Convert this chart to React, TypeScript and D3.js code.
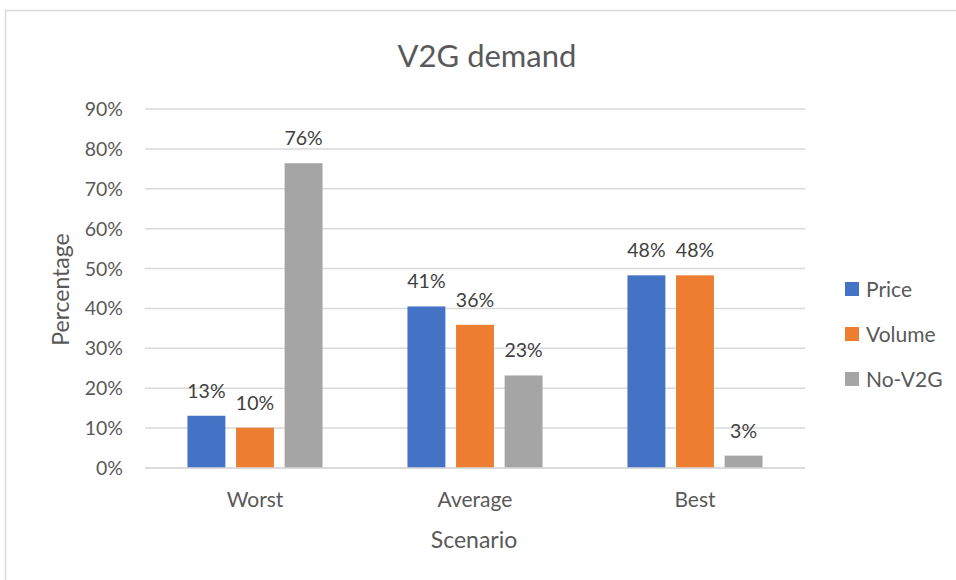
import React from "react";
import * as d3 from "d3";

const categories = ["Worst", "Average", "Best"];
const seriesNames = ["Price", "Volume", "No-V2G"];
const priceValues = [0.131, 0.405, 0.483];
const volumeValues = [0.101, 0.359, 0.483];
const noV2GValues = [0.764, 0.232, 0.031];
const colors = ["#4472C4", "#ED7D31", "#A5A5A5"];
const yTicks = [0, 0.1, 0.2, 0.3, 0.4, 0.5, 0.6, 0.7, 0.8, 0.9];

const W = 956;
const H = 580;
const FONT = "Lato, 'Open Sans', sans-serif";

export default function App() {
  const left = 145;
  const right = 805;
  const top = 109;
  const bottom = 468;
  const series = [priceValues, volumeValues, noV2GValues];

  const x = d3.scaleBand<string>().domain(categories).range([left, right]).paddingInner(0.386).paddingOuter(0.193);
  const x1 = d3.scaleBand<string>().domain(seriesNames).range([0, x.bandwidth()]).paddingInner(0.22);
  const y = d3.scaleLinear().domain([0, 0.9]).range([bottom, top]);
  const pct = d3.format(".0%");

  return (
    <svg width={W} height={H} style={{ position: "absolute", left: 0, top: 0, background: "#fff" }} fontFamily={FONT}>
      <rect x={5.5} y={10.5} width={W + 10} height={H + 10} fill="#fff" stroke="#d9d9d9" strokeWidth={1.5} />
      <text x={487} y={67} textAnchor="middle" fontSize={31} fill="#595959">V2G demand</text>
      {yTicks.map((t) => (
        <g key={t}>
          <line x1={left} x2={right} y1={y(t)} y2={y(t)} stroke="#d9d9d9" strokeWidth={1.5} />
          <text x={123} y={y(t) + 7} textAnchor="end" fontSize={19.5} fill="#595959">{pct(t)}</text>
        </g>
      ))}
      {categories.map((c, ci) => (
        <g key={c} transform={`translate(${x(c)},0)`}>
          {series.map((vals, si) => {
            const bx = x1(seriesNames[si])!;
            const bw = x1.bandwidth();
            return (
              <g key={si}>
                <rect x={bx} y={y(vals[ci])} width={bw} height={y(0) - y(vals[ci])} fill={colors[si]} />
                <text x={bx + bw / 2} y={y(vals[ci]) - 18} textAnchor="middle" fontSize={19.5} fill="#404040">{pct(vals[ci])}</text>
              </g>
            );
          })}
          <text x={x.bandwidth() / 2} y={507} textAnchor="middle" fontSize={21} fill="#595959">{c}</text>
        </g>
      ))}
      <line x1={left} x2={right} y1={bottom} y2={bottom} stroke="#d9d9d9" strokeWidth={1.5} />
      <text x={474} y={548} textAnchor="middle" fontSize={23} fill="#595959">Scenario</text>
      <text transform={`translate(69,${(top + bottom) / 2 + 1}) rotate(-90)`} textAnchor="middle" fontSize={23} fill="#595959">Percentage</text>
      {seriesNames.map((s, i) => (
        <g key={s} transform={`translate(845,${282 + i * 45})`}>
          <rect x={0} y={0} width={14} height={14} fill={colors[i]} />
          <text x={21} y={15} fontSize={21} fill="#595959">{s}</text>
        </g>
      ))}
    </svg>
  );
}
